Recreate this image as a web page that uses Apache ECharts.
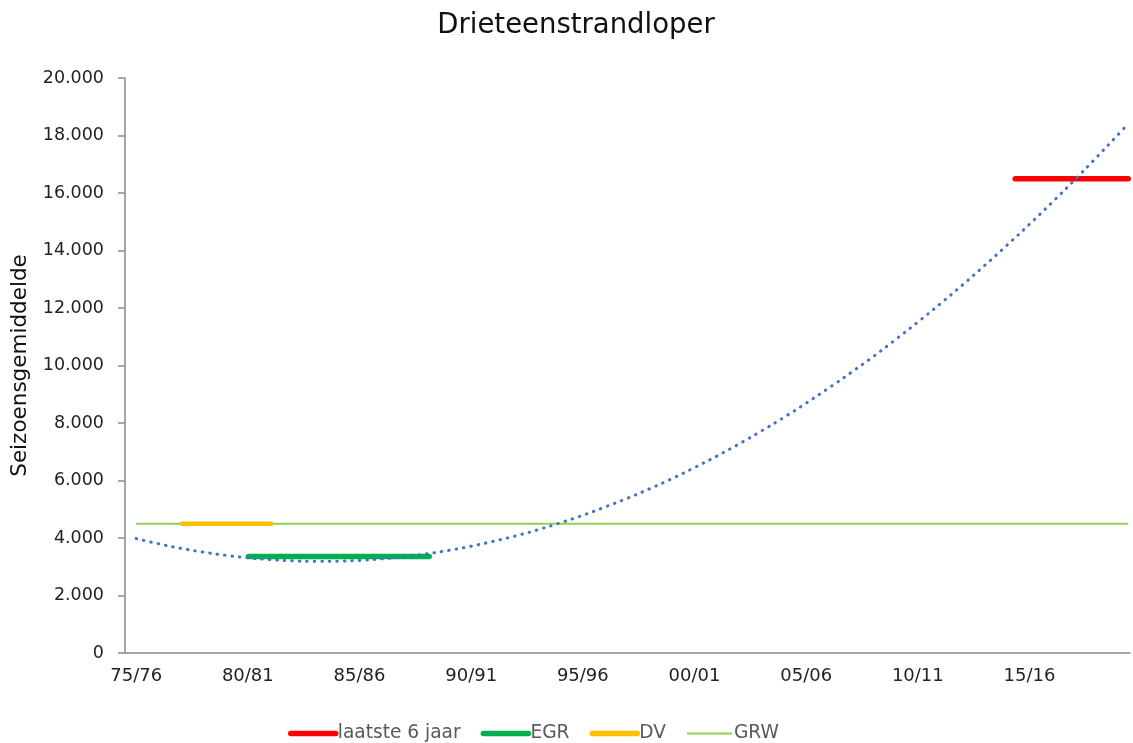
<!DOCTYPE html>
<html>
<head>
<meta charset="utf-8">
<script src="https://cdn.jsdelivr.net/npm/echarts@6/dist/echarts.min.js"></script>
<style>html,body{margin:0;padding:0;background:#fff}#c{width:1133px;height:743px}</style>
</head>
<body>
<div id="c"></div>
<script>
// Categories (seasons)
const seasons = ['75/76','76/77','77/78','78/79','79/80','80/81','81/82','82/83','83/84','84/85',
  '85/86','86/87','87/88','88/89','89/90','90/91','91/92','92/93','93/94','94/95',
  '95/96','96/97','97/98','98/99','99/00','00/01','01/02','02/03','03/04','04/05',
  '05/06','06/07','07/08','08/09','09/10','10/11','11/12','12/13','13/14','14/15',
  '15/16','16/17','17/18','18/19','19/20'];

// Trend line (dotted), estimated per season from the picture
const trendValues = [3980,3800,3640,3510,3400,3310,3250,3205,3190,3195,
  3220,3275,3350,3450,3570,3715,3885,4075,4290,4530,
  4790,5080,5385,5715,6070,6450,6850,7275,7725,8195,
  8690,9210,9750,10310,10900,11510,12145,12800,13485,14190,
  14915,15665,16440,17240,18060];
const trendEnd = [44.4, 18390];

// Reference levels: [start position, end position] in season index units, and value
const laatsteSpan = [39.36, 44.42]; const laatsteValue = 16500;
const egrSpan = [5.03, 13.12];      const egrValue = 3360;
const dvSpan = [1.99, 6.11];        const dvValue = 4500;
const grwSpan = [0.0, 44.42];       const grwValue = 4500;

// Y tick settings
const yMin = 0, yMax = 20000, yStep = 2000;

const fmt = v => v === 0 ? '0' : (v / 1000).toFixed(3);
const font = 'DejaVu Sans';

const chart = echarts.init(document.getElementById('c'), null, {renderer: 'canvas'});
const seg = (span, v) => [[span[0], v], [span[1], v]];
const legendText = {fontFamily: font, fontSize: 18.6, color: '#595959', padding: [0, 0, 0, -3]};

chart.setOption({
  animation: false,
  backgroundColor: '#fff',
  title: {
    text: 'Drieteenstrandloper',
    left: 571, top: 7, textAlign: 'center',
    textStyle: {fontFamily: font, fontSize: 27.5, fontWeight: 'normal', color: '#111'}
  },
  legend: {
    data: [
      {name: 'laatste 6 jaar', lineStyle: {width: 5.5, cap: 'round'}},
      {name: 'EGR', lineStyle: {width: 5.5, cap: 'round'}},
      {name: 'DV', lineStyle: {width: 5.5, cap: 'round'}},
      {name: 'GRW', lineStyle: {width: 2}}
    ],
    left: 283, top: 719,
    itemWidth: 45, itemHeight: 14, itemGap: 20,
    itemStyle: {opacity: 0},
    textStyle: legendText
  },
  grid: {left: 125, right: 3, top: 78, bottom: 90, containLabel: false},
  xAxis: [
    {
      type: 'category', data: seasons, boundaryGap: true,
      axisLine: {lineStyle: {color: '#8a8a8a', width: 1.5}},
      axisTick: {interval: 0, length: 5, lineStyle: {color: '#8a8a8a', width: 1.5}},
      axisLabel: {interval: 4, margin: 14, fontFamily: font, fontSize: 18, color: '#222'},
      splitLine: {show: false}
    },
    {type: 'value', min: -0.5, max: 44.5, show: false}
  ],
  yAxis: {
    type: 'value', min: yMin, max: yMax, interval: yStep,
    name: 'Seizoensgemiddelde', nameLocation: 'middle', nameGap: 89, nameRotate: 90,
    nameTextStyle: {fontFamily: font, fontSize: 21.5, color: '#111'},
    axisLine: {show: true, onZero: false, lineStyle: {color: '#8a8a8a', width: 1.5}},
    axisTick: {show: true, length: 7, lineStyle: {color: '#8a8a8a', width: 1.5}},
    axisLabel: {margin: 21, fontFamily: font, fontSize: 17.5, color: '#222', formatter: fmt},
    splitLine: {show: false}
  },
  series: [
    {name: 'GRW', type: 'line', xAxisIndex: 1, data: seg(grwSpan, grwValue), symbol: 'none',
      lineStyle: {color: '#92D050', width: 2}, itemStyle: {color: '#92D050'}, z: 2},
    {name: 'DV', type: 'line', xAxisIndex: 1, data: seg(dvSpan, dvValue), symbol: 'none',
      lineStyle: {color: '#FFC000', width: 4.5}, itemStyle: {color: '#FFC000'}, z: 3},
    {name: 'EGR', type: 'line', xAxisIndex: 1, data: seg(egrSpan, egrValue), symbol: 'none',
      lineStyle: {color: '#00B050', width: 5.5, cap: 'round'}, itemStyle: {color: '#00B050'}, z: 3},
    {name: 'laatste 6 jaar', type: 'line', xAxisIndex: 1, data: seg(laatsteSpan, laatsteValue), symbol: 'none',
      lineStyle: {color: '#FF0000', width: 5.5, cap: 'round'}, itemStyle: {color: '#FF0000'}, z: 3},
    {name: 'trend', type: 'line', xAxisIndex: 1, symbol: 'none', smooth: true,
      data: trendValues.map((v, i) => [i, v]).concat([trendEnd]),
      lineStyle: {color: '#4472C4', width: 3, type: [0.5, 7], cap: 'round'}, z: 4}
  ]
});
</script>
</body>
</html>
